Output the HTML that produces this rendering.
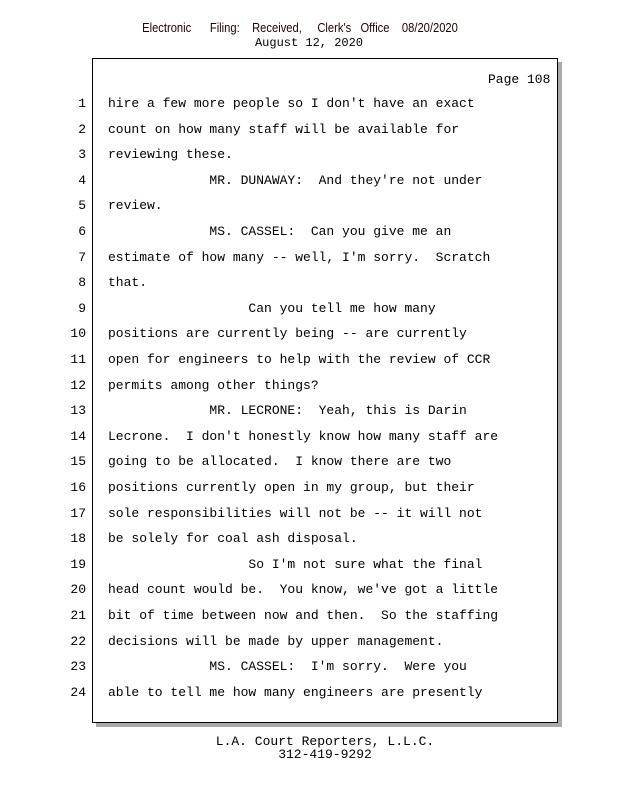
<!DOCTYPE html>
<html><head><meta charset="utf-8"><style>
body{margin:0;width:618px;height:800px;background:#fff;position:relative;font-family:"Liberation Mono",monospace;font-size:13px;color:#000;overflow:hidden}
.a{position:absolute;white-space:pre;line-height:14px}
.n{position:absolute;width:86px;text-align:right;left:0;line-height:14px}
#box{position:absolute;left:92px;top:58px;width:464px;height:663px;border:1px solid #000;box-shadow:4px 4px 0 #aaa;background:#fff}
</style></head><body>
<div class="a" style="left:0;width:600px;text-align:center;top:21px;font-family:'Liberation Sans',sans-serif;font-size:13px;transform:scaleX(0.86);color:#200">Electronic &nbsp;&nbsp;&nbsp;&nbsp; Filing: &nbsp;&nbsp; Received, &nbsp;&nbsp;&nbsp; Clerk's &nbsp;&nbsp;Office &nbsp;&nbsp; 08/20/2020</div>
<div class="a" style="left:0;width:618px;text-align:center;top:36px;font-size:12px">August 12, 2020</div>
<div id="box"></div>
<div class="a" style="left:488px;top:73px">Page 108</div>
<div id="lines"></div>
<div class="a" style="left:0;width:650px;text-align:center;top:735px">L.A. Court Reporters, L.L.C.</div>
<div class="a" style="left:0;width:650px;text-align:center;top:748px">312-419-9292</div>
<script>
var L=["hire a few more people so I don't have an exact","count on how many staff will be available for","reviewing these.","             MR. DUNAWAY:  And they're not under","review.","             MS. CASSEL:  Can you give me an","estimate of how many -- well, I'm sorry.  Scratch","that.","                  Can you tell me how many","positions are currently being -- are currently","open for engineers to help with the review of CCR","permits among other things?","             MR. LECRONE:  Yeah, this is Darin","Lecrone.  I don't honestly know how many staff are","going to be allocated.  I know there are two","positions currently open in my group, but their","sole responsibilities will not be -- it will not","be solely for coal ash disposal.","                  So I'm not sure what the final","head count would be.  You know, we've got a little","bit of time between now and then.  So the staffing","decisions will be made by upper management.","             MS. CASSEL:  I'm sorry.  Were you","able to tell me how many engineers are presently"];
var h="";for(var i=0;i<24;i++){var y=97+i*25.6;h+='<div class="n" style="top:'+y+'px">'+(i+1)+'</div><div class="a" style="left:108px;top:'+y+'px"></div>';}
document.getElementById("lines").innerHTML=h;
var d=document.querySelectorAll("#lines .a");for(var i=0;i<24;i++)d[i].textContent=L[i];
</script>
</body></html>
